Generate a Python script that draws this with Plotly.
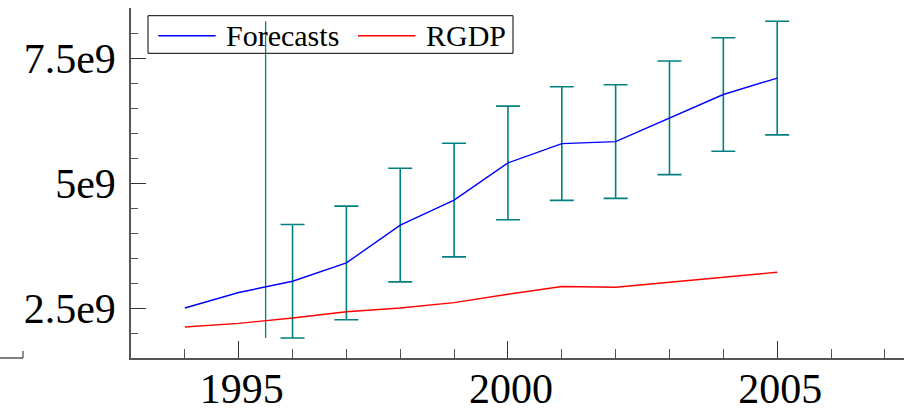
import plotly.graph_objects as go

years = list(range(1994, 2006))
forecasts = [2.500e9, 2.809e9, 3.035e9, 3.402e9, 4.158e9, 4.659e9,
             5.401e9, 5.788e9, 5.828e9, 6.303e9, 6.770e9, 7.099e9]
rgdp = [2.119e9, 2.193e9, 2.300e9, 2.424e9, 2.500e9, 2.608e9,
        2.775e9, 2.929e9, 2.915e9, 3.015e9, 3.126e9, 3.216e9]

# error bars only for the out-of-sample years
err_years = list(range(1996, 2006))
err_size = [1.136e9, 1.136e9, 1.136e9, 1.136e9, 1.136e9,
            1.136e9, 1.136e9, 1.136e9, 1.136e9, 1.136e9]
split_year = 1995.5

y_ticks = [2.5e9, 5e9, 7.5e9]
y_tick_text = ["2.5e9", "5e9", "7.5e9"]

err_center = forecasts[years.index(err_years[0]):]
lo = min(c - e for c, e in zip(err_center, err_size))
hi = max(c + e for c, e in zip(err_center, err_size))

serif = "Liberation Serif"
axis_col = "#555555"

# plot area in pixels: x 131..904, y 8..358
L, T, W, H = 131, 8, 773, 350


def px(x):
    return (x - L) / W


def py(y):
    return (T + H - y) / H


fig = go.Figure()
fig.add_trace(go.Scatter(x=[split_year, split_year], y=[lo, hi], mode="lines",
                         line=dict(color="teal", width=1.3), showlegend=False))
fig.add_trace(go.Scatter(x=err_years, y=err_center, mode="markers",
                         marker=dict(size=1, color="rgba(0,0,0,0)"),
                         error_y=dict(type="data", array=err_size, visible=True,
                                      color="teal", thickness=1.6, width=12),
                         showlegend=False))
fig.add_trace(go.Scatter(x=years, y=forecasts, mode="lines", name="Forecasts",
                         line=dict(color="blue", width=1.4), showlegend=False))
fig.add_trace(go.Scatter(x=years, y=rgdp, mode="lines", name="RGDP",
                         line=dict(color="red", width=1.4), showlegend=False))

fig.update_xaxes(range=[1993, 2007.355], showline=True, linecolor=axis_col, linewidth=1.5,
                 showgrid=False, zeroline=False, ticks="inside", ticklen=17, tickwidth=1.3,
                 tickcolor="#333333", tickmode="linear", tick0=1995, dtick=5,
                 ticklabelstandoff=-7, ticklabelshift=3, automargin=False,
                 minor=dict(ticks="inside", dtick=1, tick0=1995, ticklen=9,
                            tickcolor=axis_col, tickwidth=1.3),
                 tickfont=dict(family=serif, size=42, color="black"))
fig.update_yaxes(range=[1.5e9, 8.5e9], showline=True, linecolor=axis_col, linewidth=1.5,
                 showgrid=False, zeroline=False, ticks="inside", ticklen=15, tickwidth=1.3,
                 tickcolor="#333333", tickvals=y_ticks, ticktext=y_tick_text,
                 ticklabelstandoff=5, automargin=False,
                 minor=dict(ticks="inside", dtick=0.5e9, tick0=0, ticklen=7,
                            tickcolor=axis_col, tickwidth=1.3),
                 tickfont=dict(family=serif, size=42, color="black"))

# stub of a neighbouring axis at the lower left
fig.add_shape(type="line", xref="paper", yref="paper", x0=px(0), x1=px(23),
              y0=0, y1=0, line=dict(color=axis_col, width=1.5))
fig.add_shape(type="line", xref="paper", yref="paper", x0=px(23), x1=px(23),
              y0=0, y1=py(351), line=dict(color=axis_col, width=1.3))

# legend box drawn by hand to keep it tight like the original
fig.add_shape(type="rect", xref="paper", yref="paper", x0=px(148), x1=px(513),
              y0=py(53.3), y1=py(15.7), line=dict(color="black", width=1),
              fillcolor="rgba(0,0,0,0)")
legend_items = [("Forecasts", "blue", 158.3, 226), ("RGDP", "red", 358, 425.7)]
for label, col, x_line, x_text in legend_items:
    fig.add_shape(type="line", xref="paper", yref="paper", x0=px(x_line), x1=px(x_line + 57.4),
                  y0=py(35.7), y1=py(35.7), line=dict(color=col, width=1.4))
    fig.add_annotation(text=label, xref="paper", yref="paper", x=px(x_text - 2), y=py(35.6),
                       xanchor="left", yanchor="middle", showarrow=False,
                       font=dict(family=serif, size=30, color="black"))

fig.update_layout(
    width=904, height=418,
    margin=dict(l=L, r=904 - L - W, t=T, b=418 - T - H),
    plot_bgcolor="white", paper_bgcolor="white",
    font=dict(family=serif, color="black"),
    showlegend=False,
)

# drop the browser's default 8px body margin so the figure sits at the window corner
fig.write_html("out.html", config={"displayModeBar": False},
               post_script="document.body.style.margin = '0';")
